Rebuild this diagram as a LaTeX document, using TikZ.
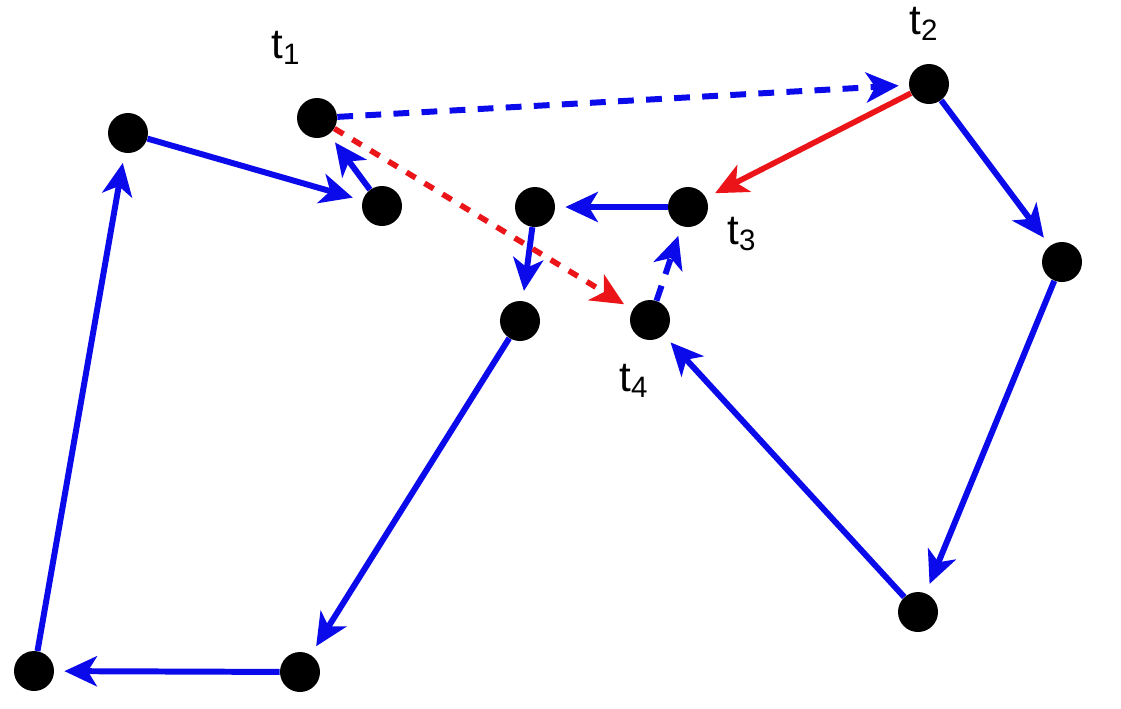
\documentclass[tikz,border=0pt]{standalone}
\usepackage{fontspec}
\setmainfont{Liberation Sans}
\usepackage{xcolor}
\usetikzlibrary{arrows.meta}
\definecolor{tourblue}{RGB}{10,10,235}
\definecolor{tourred}{RGB}{235,20,25}

\begin{document}
\begin{tikzpicture}[
    x=0.02cm,y=-0.02cm,
    city/.style={circle, fill=black, inner sep=0pt, minimum size=0.8cm},
    lbl/.style={font=\fontsize{24}{26}\selectfont, inner sep=0pt},
    edge/.style={-{Stealth[length=6.5mm, width=6mm, inset=1.8mm]}, line width=3.4pt,
                 tourblue, shorten >=0.2cm},
    newedge/.style={edge, dash pattern=on 9pt off 7pt},
    cut/.style={edge, tourred, line width=3.2pt},
    newcut/.style={cut, dash pattern=on 6pt off 6pt}
]
\useasboundingbox (0,0) rectangle (1121,708);

% Cities
\node[city] (a)  at (128,133) {};
\node[city] (t1) at (317,118) {};
\node[city] (b)  at (382,206) {};
\node[city] (c)  at (535,207) {};
\node[city] (t3) at (688,207) {};
\node[city] (t2) at (929,84) {};
\node[city] (d)  at (1062,262) {};
\node[city] (e)  at (520,321) {};
\node[city] (t4) at (650,320) {};
\node[city] (f)  at (918,612) {};
\node[city] (g)  at (300,672) {};
\node[city] (h)  at (34,671) {};

% Labels
\node[lbl] (lt1) at (286,48) {t\textsubscript{1}};
\node[lbl] (lt2) at (924,24) {t\textsubscript{2}};
\node[lbl] (lt3) at (742,234) {t\textsubscript{3}};
\node[lbl] (lt4) at (634,381) {t\textsubscript{4}};

% Tour
\draw[edge] (h) -- (a);
\draw[edge] (a) -- (b);
\draw[edge] (b) -- (t1);
\draw[edge] (t2) -- (d);
\draw[edge] (d) -- (f);
\draw[edge] (f) -- (t4);
\draw[edge] (t3) -- (c);
\draw[edge] (c) -- (e);
\draw[edge] (e) -- (g);
\draw[edge] (g) -- (h);

% 2-opt move
\draw[newedge] (t1) -- (t2);
\draw[newedge] (t4) -- (t3);
\draw[cut] (t2) -- (t3);
\draw[newcut] (t1) -- (t4);
\end{tikzpicture}
\end{document}
